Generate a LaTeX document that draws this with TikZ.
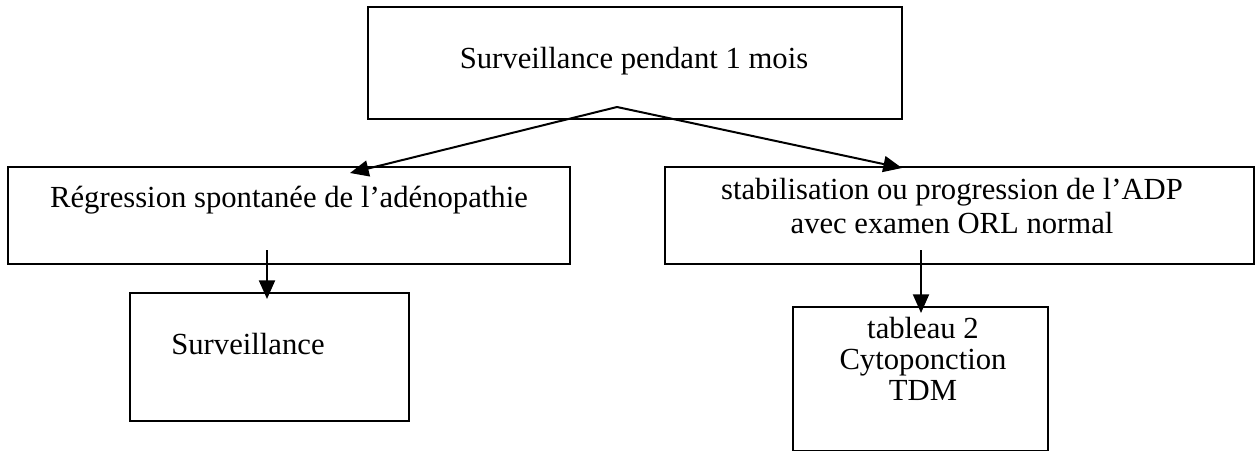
\documentclass[tikz,border=0pt]{standalone}
\usepackage{fontspec}
\setmainfont{Liberation Serif}
\usetikzlibrary{arrows.meta,calc}
\tikzset{
  boxnode/.style={draw=black, line width=1.5pt, inner sep=0pt, rectangle},
  txt/.style={inner sep=0pt, align=center, font=\fontsize{23}{25}\selectfont},
  arr/.style={line width=1.5pt, -{Triangle[length=14pt,width=12pt]}}
}
\begin{document}
\begin{tikzpicture}[x=0.75pt,y=-0.75pt]
\useasboundingbox (0,0) rectangle (1256,450);
% boxes (center, width, height in px)
\node[boxnode, minimum width=534*0.75pt, minimum height=112*0.75pt] (topbox) at (635,63) {};
\node[boxnode, minimum width=562*0.75pt, minimum height=97*0.75pt] (leftbox) at (289,215.5) {};
\node[boxnode, minimum width=589*0.75pt, minimum height=97*0.75pt] (rightbox) at (959.5,215.5) {};
\node[boxnode, minimum width=279*0.75pt, minimum height=128*0.75pt] (survbox) at (269.5,357) {};
\node[boxnode, minimum width=255*0.75pt, minimum height=144*0.75pt] (tabbox) at (920.5,379) {};
% texts
\node[txt] (toptxt) at (634,61) {Surveillance pendant 1 mois};
\node[txt] (lefttxt) at (289,200) {Régression spontanée de l’adénopathie};
\node[txt] (righttxt) at (952,206) {stabilisation ou progression de l’ADP\\avec examen ORL normal};
\node[txt] (survtxt) at (248,344) {Surveillance};
\node[txt, font=\fontsize{23}{23.25}\selectfont] (tabtxt) at (923,358.5) {tableau 2\\Cytoponction\\TDM};
% connector points
\coordinate (apex) at (617,107);
\coordinate (lefttip) at (350,173);
\coordinate (righttip) at (902,168);
\coordinate (lstart) at (267,250);
\coordinate (rstart) at (921,250);
\coordinate (lend) at ($(lstart |- survbox.north)+(0,7)$);
\coordinate (rend) at ($(rstart |- tabbox.north)+(0,7)$);
\draw[arr] (apex) -- (lefttip);
\draw[arr] (apex) -- (righttip);
\draw[arr] (lstart) -- (lend);
\draw[arr] (rstart) -- (rend);
\end{tikzpicture}
\end{document}
